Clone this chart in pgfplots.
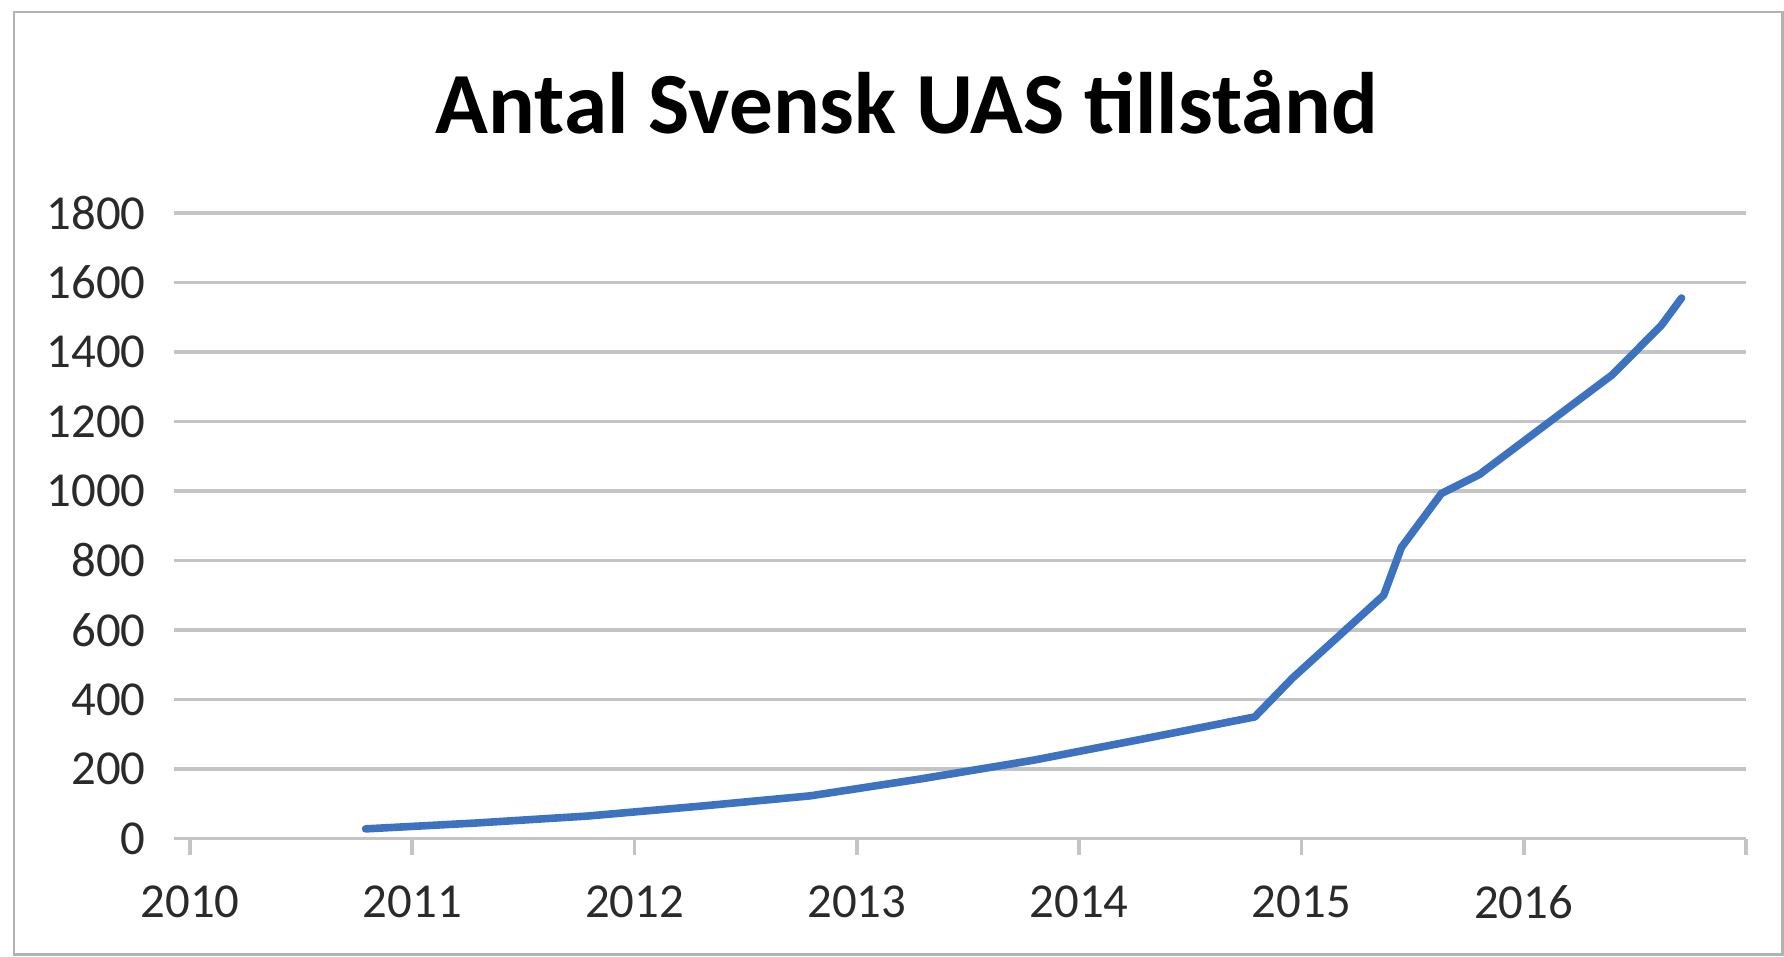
\documentclass[border=0pt]{standalone}
\usepackage{pgfplots}
\pgfplotsset{compat=1.18}
\usepackage{fontspec}
\setmainfont{Carlito}
\definecolor{linecol}{HTML}{3C72C0}
\definecolor{gridcol}{HTML}{C4C4C4}
\definecolor{txtcol}{HTML}{2A2A2A}
\begin{document}
\begin{tikzpicture}
\useasboundingbox (0,0) rectangle (446pt,239pt);
\draw[gray!60, line width=0.6pt] (3.5pt,0.4pt) rectangle (445.6pt,236pt);
\node[anchor=base, font=\bfseries\fontsize{21.8}{26}\selectfont, text=black] at (226.75pt,205.7pt) {Antal Svensk UAS tillstånd};
\begin{axis}[
  at={(47.5pt,29.35pt)}, anchor=south west,
  scale only axis, width=389pt, height=156.45pt,
  xmin=2010, xmax=2017, ymin=0, ymax=1800,
  xtick={2010,2011,...,2017},
  xticklabels={2010,2011,2012,2013,2014,2015,2016,},
  ytick={0,200,...,1800},
  axis x line*=bottom, axis y line*=left,
  y axis line style={draw=none},
  ymajorgrids, grid style={gridcol, line width=0.9pt},
  x axis line style={gridcol, line width=0.9pt, -},
  tick style={gridcol, line width=0.9pt},
  tick align=outside,
  major tick length=4.1pt,
  tick label style={font=\fontsize{12.2}{14}\selectfont, text=txtcol},
  /pgf/number format/assume math mode=true,
  /pgf/number format/1000 sep={},
  xticklabel style={anchor=north, inner sep=0pt, yshift=-7.5pt},
  yticklabel style={anchor=east, inner sep=0pt, xshift=-6.8pt},
  clip=false,
]
\addplot[linecol, line width=1.9pt, line join=round, line cap=round] coordinates {
(2010.79,28) (2011.29,45) (2011.79,65) (2012.29,93) (2012.79,123)
(2013.29,172) (2013.79,225) (2014.29,287) (2014.79,350) (2014.96,462)
(2015.37,700) (2015.45,838) (2015.63,993) (2015.80,1047) (2016.40,1335)
(2016.62,1477) (2016.71,1555)
};
\end{axis}
\end{tikzpicture}
\end{document}
